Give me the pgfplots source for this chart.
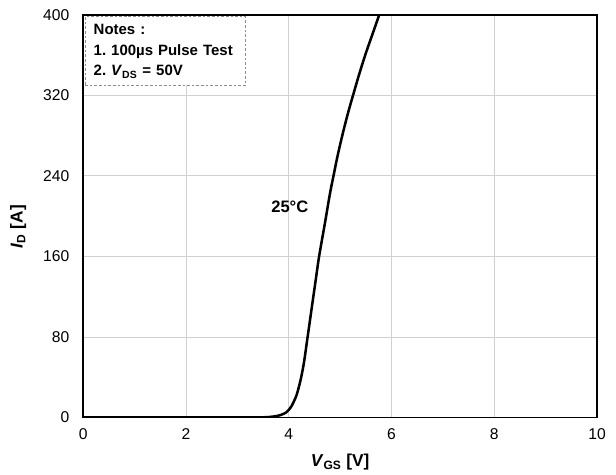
\documentclass[border=0pt]{standalone}
\usepackage{pgfplots}
\pgfplotsset{compat=1.18}
\usepackage{fontspec}
\setmainfont{Liberation Sans}
\frenchspacing
\begin{document}
\def\px{0.75pt}
\begin{tikzpicture}
\begin{axis}[
  name=ax,
  scale only axis,
  width=517*\px, height=405*\px,
  xmin=0, xmax=10, ymin=0, ymax=400,
  xtick={0,2,...,10}, ytick={0,80,...,400},
  major tick length=0pt,
  grid=major,
  grid style={black!18, line width=0.7pt},
  axis line style={line width=1.3pt},
  /pgf/number format/assume math mode=true,
  tick label style={font=\fontsize{11.8}{13}\selectfont},
  xticklabel style={yshift=-5pt},
  yticklabel style={xshift=-7pt},
  xlabel={\textbf{\textit{V}\textsubscript{GS} [V]}},
  ylabel={\textbf{\textit{I}\textsubscript{D} [A]}},
  label style={font=\fontsize{13}{15}\selectfont},
  xlabel style={yshift=-4pt},
  ylabel style={yshift=6pt, xshift=-8pt},
]
\addplot[black, line width=1.9pt, smooth, tension=0.5] coordinates {
(0,0) (3.0,0) (3.4,0.05) (3.6,0.4) (3.75,1.3) (3.85,2.6) (3.95,5) (4.0,7.5)
(4.05,11) (4.1,16) (4.15,22) (4.2,31) (4.25,42) (4.3,56) (4.35,74)
(4.4,92) (4.45,110) (4.52,135) (4.59,160) (4.7,192) (4.8,222) (4.87,240)
(4.95,260) (5.05,282) (5.15,302) (5.25,320) (5.37,341) (5.5,362) (5.63,381) (5.76,400)
};
\node[font=\fontsize{12.5}{14}\selectfont\bfseries] at (axis cs:4.02,209) {25°C};
\node[anchor=north west, draw=black!45, dash pattern=on 2pt off 1.5pt, line width=0.6pt,
  fill=white, align=left, inner xsep=6.5pt, inner ysep=3pt,
  text width=108pt, minimum height=69*\px,
  font=\fontsize{11.3}{15.75}\selectfont\bfseries]
  at ([xshift=1.5*\px, yshift=-1.5*\px]rel axis cs:0,1)
  {Notes :\\1. 100µs Pulse Test\\2. \textit{V}\textsubscript{DS} = 50V};
\end{axis}
\path[use as bounding box] ([xshift=-80*\px, yshift=-57*\px]ax.south west) rectangle ([xshift=19*\px, yshift=15*\px]ax.north east);
\end{tikzpicture}
\end{document}
